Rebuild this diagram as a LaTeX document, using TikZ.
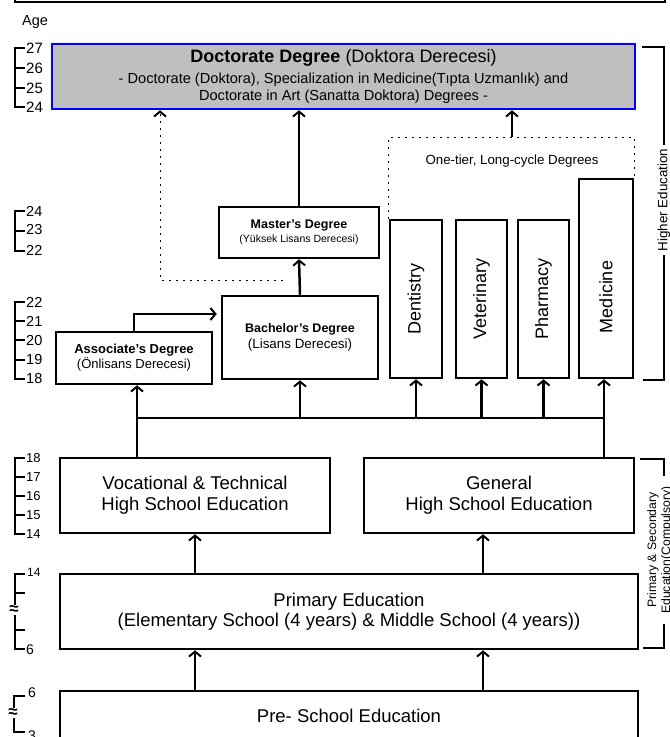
\documentclass[tikz,border=0pt]{standalone}
\usepackage{fontspec}
\setmainfont{Liberation Sans}
\usetikzlibrary{positioning, arrows.meta}

\newcommand{\fsz}[2]{\fontsize{#1}{#2}\selectfont}

\tikzset{
    box/.style={draw=black, line width=2.5pt, align=center, inner sep=2pt},
    docbox/.style={draw=blue, fill=gray!50, line width=2.5pt, align=center},
    ln/.style={line width=2.5pt},
    brk/.style={line width=2.5pt},
    arr/.style={line width=2.5pt, -{Straight Barb[length=5pt,width=12pt,line width=2pt]}},
    dots/.style={line width=1pt, dash pattern=on 2pt off 5pt},
    agenum/.style={anchor=west, inner sep=0pt},
    gap/.style={fill=white, inner sep=0.3pt, font=\fsz{17}{17}\bfseries},
    side/.style={fill=white, rotate=90, align=center}
}

\begin{document}
\begin{tikzpicture}[x=1pt, y=-1pt]
    \useasboundingbox (0,0) rectangle (670,737);
    % frame above
    \draw[line width=2.5pt] (15,-20) rectangle (665,2);
    \node[agenum, font=\fsz{14.5}{16}] (age) at (22,22) {Age};

    % higher education
    \node[docbox, minimum width=583pt, minimum height=65pt, font=\fsz{14.6}{17}] (doc) at (343.5,76.5) {
        {\fsz{18}{21}\textbf{Doctorate Degree} (Doktora Derecesi)}\\[4pt]
        - Doctorate (Doktora), Specialization in Medicine(Tıpta Uzmanlık) and\\
        Doctorate in Art (Sanatta Doktora) Degrees -
    };
    \node[box, minimum width=160pt, minimum height=51pt, font=\fsz{10.5}{14}] (master) at (299,232.5) {
        {\fsz{12.5}{14}\bfseries Master's Degree}\\
        (Yüksek Lisans Derecesi)
    };
    \node[box, minimum width=156pt, minimum height=83pt, font=\fsz{13.4}{16}] (bach) at (300,337.5) {
        {\fsz{12.5}{14}\bfseries Bachelor's Degree}\\
        (Lisans Derecesi)
    };
    \node[box, minimum width=156pt, minimum height=52pt, font=\fsz{13}{15}] (assoc) at (134,358) {
        {\bfseries Associate's Degree}\\
        (Önlisans Derecesi)
    };
    \node[box, minimum width=52pt, minimum height=158pt, font=\fsz{18}{21}] (dent) at (416,299) {\rotatebox{90}{Dentistry}};
    \node[box, minimum width=51pt, minimum height=158pt, font=\fsz{18}{21}] (vet) at (481.5,299) {\rotatebox{90}{Veterinary}};
    \node[box, minimum width=51pt, minimum height=158pt, font=\fsz{18}{21}] (pharm) at (543.5,299) {\rotatebox{90}{Pharmacy}};
    \node[box, minimum width=54pt, minimum height=199pt, text height=109pt, font=\fsz{18}{21}] (med) at (606,278.5) {\rotatebox{90}{Medicine}};
    \node[font=\fsz{13.3}{15}] (onetier) at (512,161) {One-tier, Long-cycle Degrees};

    % schools
    \node[box, minimum width=270pt, minimum height=75pt, font=\fsz{18.5}{21}] (voc) at (195,495.5) {Vocational \& Technical\\High School Education};
    \node[box, minimum width=270pt, minimum height=75pt, font=\fsz{18.5}{21}] (gen) at (499,495.5) {General\\High School Education};
    \node[box, minimum width=578pt, minimum height=75pt, font=\fsz{18.5}{20}] (prim) at (349,611.5) {Primary Education\\(Elementary School (4 years) \& Middle School (4 years))};
    \node[box, minimum width=578pt, minimum height=50pt, font=\fsz{18.5}{21}] (pre) at (349,716) {Pre- School Education};

    % connectors
    \coordinate (busL) at (137,418);
    \coordinate (busR) at (604,418);
    \draw[ln] (voc.north -| busL) -- (busL) -- (busR) -- (gen.north -| busR);
    \draw[arr] (busL) -- (busL |- assoc.south);
    \foreach \n in {bach,dent,vet,pharm}
        \draw[arr] (\n.south |- busL) -- (\n.south);
    \draw[arr] (busR) -- (busR |- med.south);
    \draw[arr, shorten >=4pt] (assoc.north) |- ([yshift=23.5pt]bach.west);
    \draw[arr] (bach.north) -- (master.south);
    \draw[arr] (master.north) -- (doc.south -| master.north);

    \coordinate (dotA) at (283,280);
    \coordinate (dotB) at (160,280);
    \draw[dots, -{Straight Barb[length=5pt,width=12pt,line width=2pt]}] (dotA) -- (dotB) -- (dotB |- doc.south);
    \coordinate (tierTop) at (512,137);
    \draw[dots] (dent.north west) -- (dent.north west |- tierTop) -- (med.north east |- tierTop) -- (med.north east);
    \draw[arr] (tierTop) -- (tierTop |- doc.south);

    \draw[arr] (prim.north -| voc.south) -- (voc.south);
    \draw[arr] ([xshift=-16pt]gen.south |- prim.north) -- ([xshift=-16pt]gen.south);
    \draw[arr] (pre.north -| voc.south) -- (prim.south -| voc.south);
    \draw[arr] ([xshift=-16pt]gen.south |- pre.north) -- ([xshift=-16pt]gen.south |- prim.south);

    % side brackets
    \draw[brk] (642,47) -- (664,47) -- (664,380) -- (643,380);
    \node[side, font=\fsz{13.4}{16}] (higher) at (664,200) {Higher Education};
    \draw[brk] (640,459) -- (664,459) -- (664,648) -- (643,648);
    \node[side, inner xsep=10pt, font=\fsz{12.2}{14}] (compulsory) at (660,550) {Primary \& Secondary\\Education(Compulsory)};

    % age brackets
    \draw[brk] (25,48) -- (15,48) -- (15,107) -- (25,107);
    \foreach \y in {68,88} \draw[brk] (15,\y) -- (25,\y);
    \foreach \a/\y in {27/48,26/68,25/88,24/107}
        \node[agenum, font=\fsz{15}{17}] (ta\a) at (26,\y) {\a};

    \draw[brk] (25,211) -- (15,211) -- (15,251) -- (25,251);
    \draw[brk] (15,231) -- (25,231);
    \foreach \a/\y in {24/211,23/230,22/250}
        \node[agenum, font=\fsz{14.5}{17}] (tb\a) at (26,\y) {\a};

    \draw[brk] (25,302) -- (15,302) -- (15,379) -- (25,379);
    \foreach \y in {321,340,360} \draw[brk] (15,\y) -- (25,\y);
    \foreach \a/\y in {22/302,21/321,20/341,19/360,18/379}
        \node[agenum, font=\fsz{14.5}{17}] (tc\a) at (26,\y) {\a};

    \draw[brk] (25,458) -- (15,458) -- (15,534) -- (25,534);
    \foreach \y in {477,496,515} \draw[brk] (15,\y) -- (25,\y);
    \foreach \a/\y in {18/458,17/477,16/496,15/515,14/534}
        \node[agenum, font=\fsz{13}{15}] (td\a) at (26,\y) {\a};

    \draw[brk] (25,574) -- (15,574) -- (15,649) -- (25,649);
    \foreach \y in {593,630} \draw[brk] (15,\y) -- (25,\y);
    \node[gap] (gapE) at (14,610) {≈};
    \node[agenum, font=\fsz{12}{14}] (te14) at (27,572) {14};
    \node[agenum, font=\fsz{14}{16}] (te6) at (26,650) {6};

    \draw[brk] (25,696) -- (14,696) -- (14,732) -- (25,732);
    \node[gap] (gapF) at (13,713) {≈};
    \node[agenum, font=\fsz{14}{16}] (tf6) at (28,693) {6};
    \node[agenum, font=\fsz{14}{16}] (tf3) at (28,736) {3};
\end{tikzpicture}
\end{document}
